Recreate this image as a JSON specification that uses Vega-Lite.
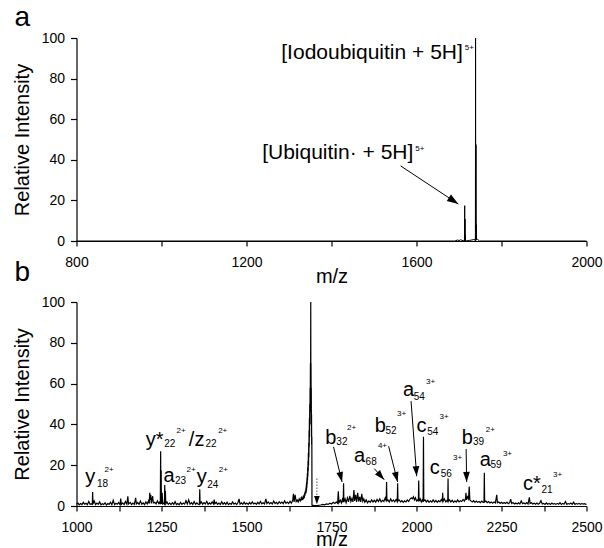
{
  "$schema": "https://vega.github.io/schema/vega-lite/v6.json",
  "background": "white",
  "padding": {"left": 11.5, "top": 4, "right": 0, "bottom": 0},
  "bounds": "flush",
  "spacing": 61,
  "config": {
    "font": "Liberation Sans",
    "view": {"stroke": null},
    "axis": {
      "grid": false,
      "domainColor": "black",
      "tickColor": "black",
      "labelColor": "black",
      "titleColor": "black",
      "labelFont": "Liberation Sans",
      "titleFont": "Liberation Sans",
      "labelFontSize": 14,
      "titleFontSize": 20,
      "titleFontWeight": "normal",
      "tickSize": 6,
      "domainWidth": 1.2,
      "tickWidth": 1.2,
      "labelFlush": false,
      "labelOverlap": false
    },
    "axisX": {"tickSize": 5, "labelPadding": 9, "titlePadding": -3},
    "axisY": {"tickSize": 6, "labelPadding": 6, "titlePadding": 9},
    "text": {"font": "Liberation Sans", "color": "black"}
  },
  "datasets": {
    "specA": [
      {"mz": 800, "i": 0}, {"mz": 1690, "i": 0}, {"mz": 1697, "i": 0.5}, {"mz": 1700, "i": 0.2},
      {"mz": 1704, "i": 0.6}, {"mz": 1707, "i": 0.3}, {"mz": 1712.8, "i": 0}, {"mz": 1713.4, "i": 17.4},
      {"mz": 1713.8, "i": 0.5}, {"mz": 1714.2, "i": 10.8}, {"mz": 1714.6, "i": 0.3}, {"mz": 1715.0, "i": 3},
      {"mz": 1715.4, "i": 0}, {"mz": 1725, "i": 0.3}, {"mz": 1733, "i": 0.6}, {"mz": 1737, "i": 0.8},
      {"mz": 1738.6, "i": 0}, {"mz": 1739.0, "i": 100}, {"mz": 1739.4, "i": 1}, {"mz": 1739.9, "i": 47.5},
      {"mz": 1740.3, "i": 1}, {"mz": 1740.7, "i": 8}, {"mz": 1741.1, "i": 0.5}, {"mz": 1744, "i": 0.8},
      {"mz": 1748, "i": 0}, {"mz": 2000, "i": 0}
    ],
    "specB": [
      {"mz": 1000, "i": 0.8}, {"mz": 1004, "i": 1.5}, {"mz": 1008, "i": 0.6}, {"mz": 1012, "i": 1.2},
      {"mz": 1016, "i": 0.7}, {"mz": 1020, "i": 1.8}, {"mz": 1024, "i": 0.9}, {"mz": 1028, "i": 1.3},
      {"mz": 1032, "i": 0.6}, {"mz": 1036, "i": 2.2}, {"mz": 1040, "i": 0.8}, {"mz": 1044, "i": 1.0},
      {"mz": 1046.5, "i": 0.8}, {"mz": 1047.5, "i": 6.8}, {"mz": 1048.5, "i": 0.9}, {"mz": 1052, "i": 2.5},
      {"mz": 1056, "i": 0.7}, {"mz": 1060, "i": 1.4}, {"mz": 1064, "i": 0.8}, {"mz": 1068, "i": 2.0},
      {"mz": 1072, "i": 0.6}, {"mz": 1076, "i": 1.1}, {"mz": 1080, "i": 0.7}, {"mz": 1084, "i": 1.6},
      {"mz": 1088, "i": 0.5}, {"mz": 1092, "i": 1.2}, {"mz": 1096, "i": 0.8}, {"mz": 1100, "i": 1.9},
      {"mz": 1104, "i": 0.6}, {"mz": 1108, "i": 2.8}, {"mz": 1112, "i": 0.7}, {"mz": 1116, "i": 1.3},
      {"mz": 1120, "i": 0.9}, {"mz": 1124, "i": 1.7}, {"mz": 1128, "i": 0.6}, {"mz": 1130, "i": 3.6},
      {"mz": 1132, "i": 0.8}, {"mz": 1136, "i": 1.5}, {"mz": 1140, "i": 0.7}, {"mz": 1144, "i": 2.2},
      {"mz": 1148, "i": 0.9}, {"mz": 1151, "i": 4.8}, {"mz": 1153, "i": 1.0}, {"mz": 1158, "i": 1.8},
      {"mz": 1162, "i": 0.7}, {"mz": 1166, "i": 1.4}, {"mz": 1170, "i": 0.8}, {"mz": 1174, "i": 4.0},
      {"mz": 1176, "i": 1.0}, {"mz": 1180, "i": 1.7}, {"mz": 1184, "i": 0.8}, {"mz": 1188, "i": 2.4},
      {"mz": 1192, "i": 0.9}, {"mz": 1196, "i": 1.5}, {"mz": 1200, "i": 0.7}, {"mz": 1204, "i": 2.0},
      {"mz": 1208, "i": 1.0}, {"mz": 1212, "i": 2.6}, {"mz": 1214, "i": 1.2}, {"mz": 1215.5, "i": 6.5},
      {"mz": 1217, "i": 3.0}, {"mz": 1218.5, "i": 5.5}, {"mz": 1220, "i": 1.3}, {"mz": 1224, "i": 4.8},
      {"mz": 1226, "i": 1.5}, {"mz": 1230, "i": 1.8}, {"mz": 1234, "i": 1.0}, {"mz": 1238, "i": 2.5},
      {"mz": 1242, "i": 1.2}, {"mz": 1245, "i": 2.0}, {"mz": 1246.5, "i": 0.8}, {"mz": 1247.5, "i": 26.8},
      {"mz": 1248.3, "i": 2.0}, {"mz": 1249, "i": 17.5}, {"mz": 1249.8, "i": 1.0}, {"mz": 1252, "i": 6.5},
      {"mz": 1253.5, "i": 1.0}, {"mz": 1256, "i": 1.4}, {"mz": 1258.5, "i": 0.9}, {"mz": 1259.5, "i": 10.3},
      {"mz": 1260.5, "i": 1.2}, {"mz": 1261.5, "i": 7.5}, {"mz": 1262.5, "i": 1.0}, {"mz": 1266, "i": 2.0},
      {"mz": 1270, "i": 0.8}, {"mz": 1274, "i": 1.4}, {"mz": 1278, "i": 0.7}, {"mz": 1282, "i": 1.6},
      {"mz": 1286, "i": 0.8}, {"mz": 1290, "i": 2.1}, {"mz": 1294, "i": 0.7}, {"mz": 1298, "i": 1.2},
      {"mz": 1302, "i": 0.6}, {"mz": 1306, "i": 1.8}, {"mz": 1310, "i": 0.8}, {"mz": 1314, "i": 1.4},
      {"mz": 1318, "i": 0.9}, {"mz": 1322, "i": 2.6}, {"mz": 1326, "i": 1.0}, {"mz": 1330, "i": 3.0},
      {"mz": 1334, "i": 0.9}, {"mz": 1338, "i": 1.6}, {"mz": 1342, "i": 0.8}, {"mz": 1346, "i": 2.2},
      {"mz": 1350, "i": 0.9}, {"mz": 1354, "i": 1.5}, {"mz": 1358, "i": 0.8}, {"mz": 1361.5, "i": 1.0},
      {"mz": 1362.5, "i": 8.2}, {"mz": 1363.5, "i": 1.1}, {"mz": 1367, "i": 2.0}, {"mz": 1371, "i": 0.9},
      {"mz": 1375, "i": 1.7}, {"mz": 1379, "i": 1.0}, {"mz": 1383, "i": 2.3}, {"mz": 1387, "i": 0.8},
      {"mz": 1391, "i": 1.5}, {"mz": 1395, "i": 0.9}, {"mz": 1399, "i": 2.0}, {"mz": 1403, "i": 1.0},
      {"mz": 1405, "i": 3.2}, {"mz": 1407, "i": 1.1}, {"mz": 1411, "i": 1.8}, {"mz": 1415, "i": 0.8},
      {"mz": 1419, "i": 1.4}, {"mz": 1423, "i": 0.7}, {"mz": 1427, "i": 2.1}, {"mz": 1431, "i": 0.9},
      {"mz": 1435, "i": 1.6}, {"mz": 1439, "i": 0.8}, {"mz": 1443, "i": 1.9}, {"mz": 1447, "i": 0.7},
      {"mz": 1451, "i": 1.3}, {"mz": 1455, "i": 0.8}, {"mz": 1459, "i": 2.0}, {"mz": 1463, "i": 0.9},
      {"mz": 1467, "i": 1.4}, {"mz": 1471, "i": 0.7}, {"mz": 1475, "i": 1.7}, {"mz": 1478, "i": 3.5},
      {"mz": 1481, "i": 0.9}, {"mz": 1485, "i": 1.5}, {"mz": 1489, "i": 0.8}, {"mz": 1493, "i": 1.9},
      {"mz": 1497, "i": 0.9}, {"mz": 1501, "i": 1.4}, {"mz": 1505, "i": 0.8}, {"mz": 1509, "i": 1.7},
      {"mz": 1513, "i": 1.0}, {"mz": 1517, "i": 2.0}, {"mz": 1521, "i": 1.0}, {"mz": 1525, "i": 1.5},
      {"mz": 1529, "i": 0.8}, {"mz": 1533, "i": 1.8}, {"mz": 1537, "i": 1.0}, {"mz": 1541, "i": 2.2},
      {"mz": 1545, "i": 1.1}, {"mz": 1549, "i": 1.6}, {"mz": 1553, "i": 1.0}, {"mz": 1557, "i": 3.5},
      {"mz": 1560, "i": 1.2}, {"mz": 1564, "i": 2.0}, {"mz": 1568, "i": 1.1}, {"mz": 1572, "i": 1.7},
      {"mz": 1576, "i": 1.0}, {"mz": 1580, "i": 2.4}, {"mz": 1584, "i": 1.2}, {"mz": 1588, "i": 1.8},
      {"mz": 1592, "i": 1.0}, {"mz": 1596, "i": 2.1}, {"mz": 1600, "i": 1.3}, {"mz": 1604, "i": 1.9},
      {"mz": 1608, "i": 1.1}, {"mz": 1612, "i": 2.5}, {"mz": 1616, "i": 1.3}, {"mz": 1620, "i": 1.9},
      {"mz": 1624, "i": 1.2}, {"mz": 1628, "i": 2.3}, {"mz": 1632, "i": 1.4}, {"mz": 1636, "i": 2.8},
      {"mz": 1638, "i": 6.0}, {"mz": 1640, "i": 2.0}, {"mz": 1643, "i": 5.5}, {"mz": 1646, "i": 2.2},
      {"mz": 1649, "i": 3.0}, {"mz": 1652, "i": 2.0}, {"mz": 1655, "i": 3.5}, {"mz": 1658, "i": 2.5},
      {"mz": 1661, "i": 4.0}, {"mz": 1662.5, "i": 2.8}, {"mz": 1664, "i": 4.2}, {"mz": 1665.5, "i": 3.0},
      {"mz": 1667, "i": 5.0}, {"mz": 1668, "i": 3.5}, {"mz": 1669, "i": 5.5}, {"mz": 1670, "i": 4.0},
      {"mz": 1671, "i": 6.5}, {"mz": 1672, "i": 5.0}, {"mz": 1673, "i": 7.5}, {"mz": 1674, "i": 6.0},
      {"mz": 1675, "i": 9.0}, {"mz": 1675.5, "i": 6.5}, {"mz": 1676, "i": 10.5}, {"mz": 1676.5, "i": 7.5},
      {"mz": 1677, "i": 12}, {"mz": 1677.5, "i": 9}, {"mz": 1678, "i": 14}, {"mz": 1678.5, "i": 10.5},
      {"mz": 1679, "i": 16}, {"mz": 1679.5, "i": 12.5}, {"mz": 1680, "i": 19}, {"mz": 1680.5, "i": 14.5},
      {"mz": 1681, "i": 22}, {"mz": 1681.5, "i": 17}, {"mz": 1682, "i": 26}, {"mz": 1682.5, "i": 20},
      {"mz": 1683, "i": 31}, {"mz": 1683.5, "i": 24}, {"mz": 1684, "i": 37}, {"mz": 1684.5, "i": 29},
      {"mz": 1685, "i": 43}, {"mz": 1685.5, "i": 34}, {"mz": 1686, "i": 50}, {"mz": 1686.5, "i": 40},
      {"mz": 1687, "i": 58}, {"mz": 1687.5, "i": 46}, {"mz": 1688, "i": 70}, {"mz": 1688.5, "i": 55},
      {"mz": 1689, "i": 100}, {"mz": 1689.3, "i": 62}, {"mz": 1689.7, "i": 70}, {"mz": 1690.1, "i": 50},
      {"mz": 1690.5, "i": 58}, {"mz": 1690.9, "i": 40}, {"mz": 1691.3, "i": 45}, {"mz": 1691.7, "i": 30},
      {"mz": 1692.2, "i": 34}, {"mz": 1692.6, "i": 0.4}, {"mz": 1700, "i": 0.2}, {"mz": 1710, "i": 0.3},
      {"mz": 1718, "i": 0.5}, {"mz": 1724, "i": 0.8}, {"mz": 1730, "i": 0.6}, {"mz": 1735, "i": 1.0},
      {"mz": 1740, "i": 0.8}, {"mz": 1745, "i": 1.4}, {"mz": 1750, "i": 1.0}, {"mz": 1755, "i": 1.8},
      {"mz": 1760, "i": 1.2}, {"mz": 1764, "i": 2.0}, {"mz": 1768, "i": 1.3}, {"mz": 1770, "i": 7.2},
      {"mz": 1772, "i": 1.6}, {"mz": 1776, "i": 2.8}, {"mz": 1779, "i": 1.5}, {"mz": 1782, "i": 3.2},
      {"mz": 1784.5, "i": 1.8}, {"mz": 1785.5, "i": 11.2}, {"mz": 1786.5, "i": 2.0}, {"mz": 1790, "i": 3.5},
      {"mz": 1793, "i": 1.6}, {"mz": 1797, "i": 4.0}, {"mz": 1800, "i": 2.0}, {"mz": 1804, "i": 5.0},
      {"mz": 1807, "i": 2.2}, {"mz": 1810, "i": 3.6}, {"mz": 1813, "i": 2.0}, {"mz": 1816, "i": 7.8},
      {"mz": 1818, "i": 2.5}, {"mz": 1821, "i": 5.5}, {"mz": 1824, "i": 2.0}, {"mz": 1827, "i": 6.5},
      {"mz": 1830, "i": 2.2}, {"mz": 1833, "i": 4.5}, {"mz": 1836, "i": 2.0}, {"mz": 1839, "i": 6.0},
      {"mz": 1842, "i": 2.3}, {"mz": 1845, "i": 3.5}, {"mz": 1848, "i": 1.8}, {"mz": 1852, "i": 3.0},
      {"mz": 1856, "i": 1.6}, {"mz": 1860, "i": 2.5}, {"mz": 1864, "i": 1.8}, {"mz": 1868, "i": 3.0},
      {"mz": 1872, "i": 2.0}, {"mz": 1876, "i": 2.8}, {"mz": 1880, "i": 1.9}, {"mz": 1884, "i": 3.2},
      {"mz": 1888, "i": 2.2}, {"mz": 1892, "i": 3.5}, {"mz": 1896, "i": 2.0}, {"mz": 1900, "i": 2.8},
      {"mz": 1904, "i": 2.2}, {"mz": 1908, "i": 4.0}, {"mz": 1911, "i": 2.4}, {"mz": 1912, "i": 11.8},
      {"mz": 1913, "i": 2.5}, {"mz": 1916, "i": 3.0}, {"mz": 1920, "i": 2.0}, {"mz": 1924, "i": 3.5},
      {"mz": 1928, "i": 2.2}, {"mz": 1932, "i": 3.0}, {"mz": 1936, "i": 2.0}, {"mz": 1940, "i": 3.2},
      {"mz": 1943.5, "i": 2.2}, {"mz": 1944.5, "i": 11.2}, {"mz": 1945.5, "i": 2.4}, {"mz": 1949, "i": 3.0},
      {"mz": 1953, "i": 2.0}, {"mz": 1957, "i": 2.6}, {"mz": 1961, "i": 1.8}, {"mz": 1965, "i": 2.5},
      {"mz": 1969, "i": 2.0}, {"mz": 1973, "i": 3.0}, {"mz": 1977, "i": 2.2}, {"mz": 1981, "i": 3.4},
      {"mz": 1985, "i": 4.0}, {"mz": 1988, "i": 3.5}, {"mz": 1991, "i": 4.5}, {"mz": 1994, "i": 3.0},
      {"mz": 1997, "i": 4.0}, {"mz": 2000, "i": 2.5}, {"mz": 2003, "i": 3.0}, {"mz": 2005.5, "i": 2.2},
      {"mz": 2006.5, "i": 12.5}, {"mz": 2007.5, "i": 2.4}, {"mz": 2011, "i": 3.5}, {"mz": 2014, "i": 2.0},
      {"mz": 2017, "i": 3.0}, {"mz": 2019.5, "i": 2.0}, {"mz": 2020.5, "i": 34}, {"mz": 2021.5, "i": 2.5},
      {"mz": 2025, "i": 3.0}, {"mz": 2029, "i": 2.0}, {"mz": 2033, "i": 2.8}, {"mz": 2037, "i": 1.8},
      {"mz": 2041, "i": 2.5}, {"mz": 2045, "i": 1.9}, {"mz": 2049, "i": 3.0}, {"mz": 2053, "i": 2.0},
      {"mz": 2057, "i": 2.7}, {"mz": 2061, "i": 1.8}, {"mz": 2065, "i": 2.6}, {"mz": 2069, "i": 2.0},
      {"mz": 2073, "i": 3.2}, {"mz": 2076, "i": 2.2}, {"mz": 2077, "i": 6.5}, {"mz": 2078, "i": 2.2},
      {"mz": 2082, "i": 3.5}, {"mz": 2086, "i": 2.0}, {"mz": 2090, "i": 2.8}, {"mz": 2092, "i": 2.2},
      {"mz": 2092.8, "i": 13.5}, {"mz": 2093.6, "i": 2.3}, {"mz": 2097, "i": 3.0}, {"mz": 2101, "i": 2.0},
      {"mz": 2105, "i": 2.8}, {"mz": 2109, "i": 1.8}, {"mz": 2113, "i": 2.5}, {"mz": 2117, "i": 1.9},
      {"mz": 2121, "i": 3.0}, {"mz": 2125, "i": 2.0}, {"mz": 2129, "i": 2.6}, {"mz": 2133, "i": 2.2},
      {"mz": 2137, "i": 3.2}, {"mz": 2141, "i": 2.4}, {"mz": 2144, "i": 3.5}, {"mz": 2145.5, "i": 6.5},
      {"mz": 2147, "i": 3.0}, {"mz": 2150, "i": 4.5}, {"mz": 2153, "i": 3.5}, {"mz": 2155, "i": 9.5},
      {"mz": 2157, "i": 3.0}, {"mz": 2160, "i": 2.5}, {"mz": 2164, "i": 2.0}, {"mz": 2168, "i": 2.6},
      {"mz": 2172, "i": 1.8}, {"mz": 2176, "i": 2.4}, {"mz": 2180, "i": 1.8}, {"mz": 2184, "i": 2.2},
      {"mz": 2188, "i": 1.6}, {"mz": 2192, "i": 2.4}, {"mz": 2196, "i": 1.8}, {"mz": 2198.5, "i": 1.8},
      {"mz": 2199.5, "i": 16.3}, {"mz": 2200.5, "i": 2.0}, {"mz": 2204, "i": 2.4}, {"mz": 2208, "i": 1.6},
      {"mz": 2212, "i": 2.2}, {"mz": 2216, "i": 1.5}, {"mz": 2220, "i": 2.0}, {"mz": 2224, "i": 1.4},
      {"mz": 2228, "i": 2.0}, {"mz": 2232, "i": 1.5}, {"mz": 2236, "i": 5.5}, {"mz": 2238, "i": 1.6},
      {"mz": 2242, "i": 2.0}, {"mz": 2246, "i": 1.3}, {"mz": 2250, "i": 1.8}, {"mz": 2254, "i": 1.2},
      {"mz": 2258, "i": 1.7}, {"mz": 2262, "i": 1.2}, {"mz": 2266, "i": 1.9}, {"mz": 2270, "i": 1.1},
      {"mz": 2274, "i": 1.6}, {"mz": 2277, "i": 3.4}, {"mz": 2280, "i": 1.2}, {"mz": 2284, "i": 1.7},
      {"mz": 2288, "i": 1.0}, {"mz": 2292, "i": 1.5}, {"mz": 2296, "i": 1.0}, {"mz": 2300, "i": 1.6},
      {"mz": 2304, "i": 1.0}, {"mz": 2308, "i": 2.5}, {"mz": 2312, "i": 1.1}, {"mz": 2316, "i": 1.5},
      {"mz": 2320, "i": 1.0}, {"mz": 2324, "i": 1.7}, {"mz": 2328, "i": 1.0}, {"mz": 2332, "i": 4.2},
      {"mz": 2334, "i": 1.2}, {"mz": 2338, "i": 1.6}, {"mz": 2342, "i": 1.0}, {"mz": 2346, "i": 1.4},
      {"mz": 2350, "i": 0.9}, {"mz": 2354, "i": 1.5}, {"mz": 2358, "i": 0.9}, {"mz": 2362, "i": 1.3},
      {"mz": 2366, "i": 2.6}, {"mz": 2370, "i": 1.0}, {"mz": 2374, "i": 1.3}, {"mz": 2378, "i": 0.8},
      {"mz": 2382, "i": 1.5}, {"mz": 2386, "i": 0.9}, {"mz": 2390, "i": 1.3}, {"mz": 2394, "i": 0.8},
      {"mz": 2398, "i": 1.4}, {"mz": 2402, "i": 0.9}, {"mz": 2406, "i": 1.2}, {"mz": 2410, "i": 0.8},
      {"mz": 2414, "i": 1.3}, {"mz": 2418, "i": 0.9}, {"mz": 2422, "i": 1.6}, {"mz": 2426, "i": 0.8},
      {"mz": 2430, "i": 1.3}, {"mz": 2434, "i": 0.9}, {"mz": 2438, "i": 2.2}, {"mz": 2442, "i": 0.8},
      {"mz": 2446, "i": 1.2}, {"mz": 2450, "i": 0.9}, {"mz": 2454, "i": 1.4}, {"mz": 2458, "i": 0.8},
      {"mz": 2462, "i": 1.9}, {"mz": 2466, "i": 0.8}, {"mz": 2470, "i": 1.2}, {"mz": 2474, "i": 0.9},
      {"mz": 2478, "i": 1.3}, {"mz": 2482, "i": 0.8}, {"mz": 2486, "i": 1.2}, {"mz": 2490, "i": 0.9},
      {"mz": 2494, "i": 1.1}, {"mz": 2498, "i": 0.8}, {"mz": 2500, "i": 1.0}
    ],
    "labelsA": [
      {"mz": 1709, "i": 89.6, "t": "[Iodoubiquitin + 5H]", "part": "main"},
      {"mz": 1713.8, "i": 94.2, "t": "5+", "part": "sup"},
      {"mz": 1592.5, "i": 40.3, "t": "[Ubiquitin· + 5H]", "part": "main"},
      {"mz": 1597, "i": 44.4, "t": "5+", "part": "sup"}
    ],
    "arrowsA": [
      {"mz": 1562.6, "i": 37, "mz2": 1698.5, "i2": 18.2, "ang": -56.5}
    ],
    "labelsB": [
      {"mz": 1026, "i": 11.4, "t": "y", "part": "main"},
      {"mz": 1060, "i": 9.4, "t": "18", "part": "sub"},
      {"mz": 1082.6, "i": 16.5, "t": "2+", "part": "sup"},
      {"mz": 1203.4, "i": 29.6, "t": "y*", "part": "main"},
      {"mz": 1258, "i": 28.7, "t": "22", "part": "sub"},
      {"mz": 1294.2, "i": 35.6, "t": "2+", "part": "sup"},
      {"mz": 1330.4, "i": 29.6, "t": "/z", "part": "main"},
      {"mz": 1379.2, "i": 28.7, "t": "22", "part": "sub"},
      {"mz": 1416.6, "i": 35.6, "t": "2+", "part": "sup"},
      {"mz": 1255.8, "i": 11.9, "t": "a", "part": "main"},
      {"mz": 1289.8, "i": 11.0, "t": "23", "part": "sub"},
      {"mz": 1323.8, "i": 16.5, "t": "2+", "part": "sup"},
      {"mz": 1353.9, "i": 11.4, "t": "y", "part": "main"},
      {"mz": 1384.5, "i": 8.9, "t": "24", "part": "sub"},
      {"mz": 1418.5, "i": 16.5, "t": "2+", "part": "sup"},
      {"mz": 1731.3, "i": 30.3, "t": "b", "part": "main"},
      {"mz": 1764.2, "i": 29.8, "t": "32", "part": "sub"},
      {"mz": 1795.8, "i": 37.4, "t": "2+", "part": "sup"},
      {"mz": 1816.2, "i": 21.7, "t": "a", "part": "main"},
      {"mz": 1850.2, "i": 20.1, "t": "68", "part": "sub"},
      {"mz": 1886.4, "i": 28.3, "t": "4+", "part": "sup"},
      {"mz": 1877.3, "i": 36.2, "t": "b", "part": "main"},
      {"mz": 1909, "i": 35.4, "t": "52", "part": "sub"},
      {"mz": 1943, "i": 44.0, "t": "3+", "part": "sup"},
      {"mz": 1960.1, "i": 53.9, "t": "a", "part": "main"},
      {"mz": 1991.8, "i": 51.9, "t": "54", "part": "sub"},
      {"mz": 2028, "i": 59.8, "t": "3+", "part": "sup"},
      {"mz": 1999.7, "i": 36.5, "t": "c", "part": "main"},
      {"mz": 2031.4, "i": 34.8, "t": "54", "part": "sub"},
      {"mz": 2067.6, "i": 42.7, "t": "3+", "part": "sup"},
      {"mz": 2039.3, "i": 15.9, "t": "c", "part": "main"},
      {"mz": 2071, "i": 14.3, "t": "56", "part": "sub"},
      {"mz": 2107.3, "i": 22.7, "t": "3+", "part": "sup"},
      {"mz": 2133.3, "i": 30.3, "t": "b", "part": "main"},
      {"mz": 2166.2, "i": 29.8, "t": "39", "part": "sub"},
      {"mz": 2203.6, "i": 36.1, "t": "2+", "part": "sup"},
      {"mz": 2186.1, "i": 19.8, "t": "a", "part": "main"},
      {"mz": 2217.8, "i": 18.5, "t": "59", "part": "sub"},
      {"mz": 2254.1, "i": 24.7, "t": "3+", "part": "sup"},
      {"mz": 2313.3, "i": 8.0, "t": "c*", "part": "main"},
      {"mz": 2367.6, "i": 6.6, "t": "21", "part": "sub"},
      {"mz": 2401.6, "i": 14.3, "t": "3+", "part": "sup"}
    ],
    "arrowsB": [
      {"mz": 1756, "i": 29.0, "mz2": 1781, "i2": 11.8, "ang": -13.6},
      {"mz": 1876, "i": 18.3, "mz2": 1905, "i2": 12.9, "ang": -42},
      {"mz": 1918, "i": 29.3, "mz2": 1944.5, "i2": 11.8, "ang": -14},
      {"mz": 1984, "i": 51.4, "mz2": 2000.6, "i2": 14.6, "ang": -4.3},
      {"mz": 2146, "i": 28.0, "mz2": 2147.5, "i2": 11.8, "ang": -1}
    ],
    "dottedB": [
      {"mz": 1707, "i": 13.5, "mz2": 1707, "i2": 4.5}
    ],
    "dottedHeadB": [
      {"mz": 1707, "i": 0.8, "ang": 0}
    ]
  },
  "vconcat": [
    {
      "width": 510,
      "height": 203,
      "title": {"text": "a", "anchor": "start", "frame": "group", "fontSize": 28, "fontWeight": "normal", "baseline": "alphabetic", "dx": -62, "offset": -23, "font": "Liberation Sans", "color": "black"},
      "layer": [
        {
          "data": {"name": "specA"},
          "mark": {"type": "line", "color": "black", "strokeWidth": 1},
          "encoding": {
            "x": {"field": "mz", "type": "quantitative", "scale": {"domain": [800, 2000], "nice": false},
                  "axis": {"title": "m/z", "values": [800, 1000, 1200, 1400, 1600, 1800, 2000], "labelExpr": "datum.value % 400 == 0 ? datum.label : ''", "format": "d"}},
            "y": {"field": "i", "type": "quantitative", "scale": {"domain": [0, 100], "nice": false},
                  "axis": {"title": "Relative Intensity", "values": [0, 20, 40, 60, 80, 100]}}
          }
        },
        {
          "data": {"name": "arrowsA"},
          "mark": {"type": "rule", "color": "black", "strokeWidth": 1},
          "encoding": {
            "x": {"field": "mz", "type": "quantitative"},
            "y": {"field": "i", "type": "quantitative"},
            "x2": {"field": "mz2"},
            "y2": {"field": "i2"}
          }
        },
        {
          "data": {"name": "arrowsA"},
          "mark": {"type": "point", "shape": "M0,0L-0.8,-2.4L0.8,-2.4Z", "filled": true, "color": "black", "opacity": 1, "size": 90},
          "encoding": {
            "x": {"field": "mz2", "type": "quantitative"},
            "y": {"field": "i2", "type": "quantitative"},
            "angle": {"field": "ang", "type": "quantitative", "scale": null}
          }
        },
        {
          "data": {"name": "labelsA"},
          "transform": [{"filter": "datum.part == 'main'"}],
          "mark": {"type": "text", "align": "right", "baseline": "alphabetic", "fontSize": 21},
          "encoding": {
            "x": {"field": "mz", "type": "quantitative"},
            "y": {"field": "i", "type": "quantitative"},
            "text": {"field": "t"}
          }
        },
        {
          "data": {"name": "labelsA"},
          "transform": [{"filter": "datum.part == 'sup'"}],
          "mark": {"type": "text", "align": "left", "baseline": "alphabetic", "fontSize": 8},
          "encoding": {
            "x": {"field": "mz", "type": "quantitative"},
            "y": {"field": "i", "type": "quantitative"},
            "text": {"field": "t"}
          }
        }
      ]
    },
    {
      "width": 510,
      "height": 204,
      "title": {"text": "b", "anchor": "start", "frame": "group", "fontSize": 28, "fontWeight": "normal", "baseline": "alphabetic", "dx": -62, "offset": -14, "font": "Liberation Sans", "color": "black"},
      "layer": [
        {
          "data": {"name": "specB"},
          "mark": {"type": "line", "color": "black", "strokeWidth": 1.2},
          "encoding": {
            "x": {"field": "mz", "type": "quantitative", "scale": {"domain": [1000, 2500], "nice": false},
                  "axis": {"title": "m/z", "titlePadding": -5, "values": [1000, 1125, 1250, 1375, 1500, 1625, 1750, 1875, 2000, 2125, 2250, 2375, 2500], "labelExpr": "datum.value % 250 == 0 ? datum.label : ''", "format": "d"}},
            "y": {"field": "i", "type": "quantitative", "scale": {"domain": [0, 100], "nice": false},
                  "axis": {"title": "Relative Intensity", "values": [0, 20, 40, 60, 80, 100]}}
          }
        },
        {
          "data": {"name": "arrowsB"},
          "mark": {"type": "rule", "color": "black", "strokeWidth": 1},
          "encoding": {
            "x": {"field": "mz", "type": "quantitative"},
            "y": {"field": "i", "type": "quantitative"},
            "x2": {"field": "mz2"},
            "y2": {"field": "i2"}
          }
        },
        {
          "data": {"name": "arrowsB"},
          "mark": {"type": "point", "shape": "M0,0L-0.8,-2.4L0.8,-2.4Z", "filled": true, "color": "black", "opacity": 1, "size": 70},
          "encoding": {
            "x": {"field": "mz2", "type": "quantitative"},
            "y": {"field": "i2", "type": "quantitative"},
            "angle": {"field": "ang", "type": "quantitative", "scale": null}
          }
        },
        {
          "data": {"name": "dottedB"},
          "mark": {"type": "rule", "color": "#555555", "strokeWidth": 1, "strokeDash": [1.5, 1.5]},
          "encoding": {
            "x": {"field": "mz", "type": "quantitative"},
            "y": {"field": "i", "type": "quantitative"},
            "x2": {"field": "mz2"},
            "y2": {"field": "i2"}
          }
        },
        {
          "data": {"name": "dottedHeadB"},
          "mark": {"type": "point", "shape": "M0,0L-0.8,-2.4L0.8,-2.4Z", "filled": true, "color": "black", "opacity": 1, "size": 50},
          "encoding": {
            "x": {"field": "mz", "type": "quantitative"},
            "y": {"field": "i", "type": "quantitative"},
            "angle": {"field": "ang", "type": "quantitative", "scale": null}
          }
        },
        {
          "data": {"name": "labelsB"},
          "transform": [{"filter": "datum.part == 'main'"}],
          "mark": {"type": "text", "align": "left", "baseline": "alphabetic", "fontSize": 20},
          "encoding": {
            "x": {"field": "mz", "type": "quantitative"},
            "y": {"field": "i", "type": "quantitative"},
            "text": {"field": "t"}
          }
        },
        {
          "data": {"name": "labelsB"},
          "transform": [{"filter": "datum.part == 'sub'"}],
          "mark": {"type": "text", "align": "left", "baseline": "alphabetic", "fontSize": 10},
          "encoding": {
            "x": {"field": "mz", "type": "quantitative"},
            "y": {"field": "i", "type": "quantitative"},
            "text": {"field": "t"}
          }
        },
        {
          "data": {"name": "labelsB"},
          "transform": [{"filter": "datum.part == 'sup'"}],
          "mark": {"type": "text", "align": "left", "baseline": "alphabetic", "fontSize": 8},
          "encoding": {
            "x": {"field": "mz", "type": "quantitative"},
            "y": {"field": "i", "type": "quantitative"},
            "text": {"field": "t"}
          }
        }
      ]
    }
  ]
}
